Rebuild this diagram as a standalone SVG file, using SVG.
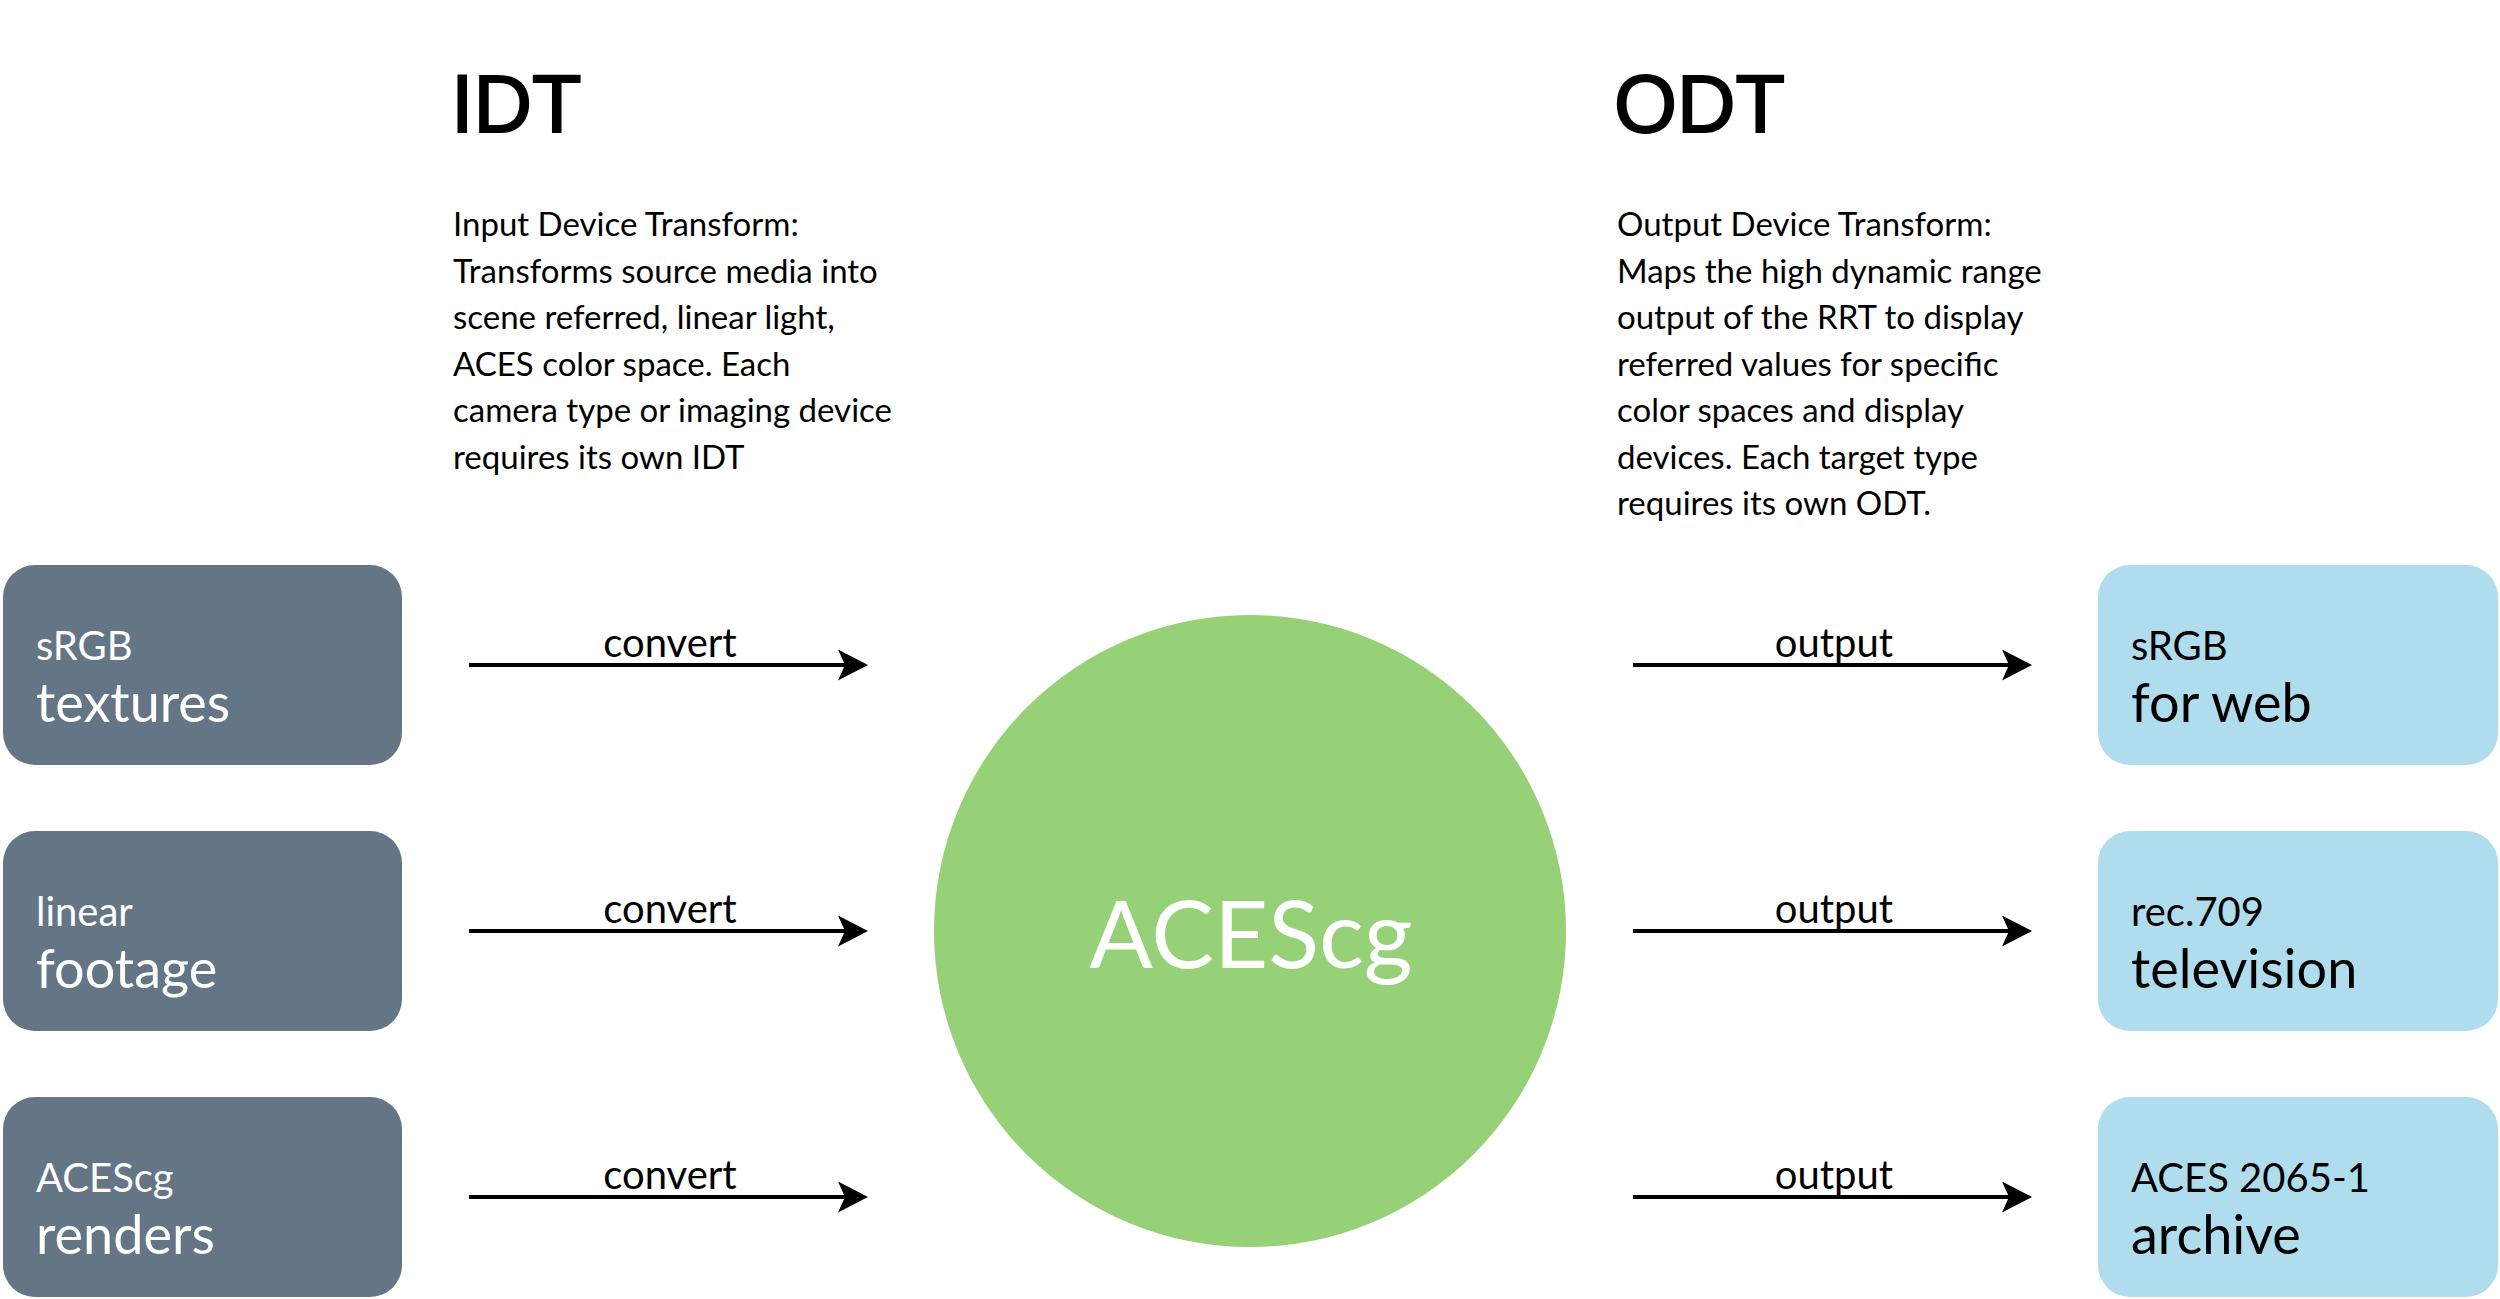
<svg xmlns="http://www.w3.org/2000/svg" width="2500" height="1299" viewBox="0 0 2500 1299">
<style>
text{font-family:Lato,"Liberation Sans",sans-serif;}
.h{font-family:"Liberation Sans",Arial,sans-serif;font-size:81px;fill:#000;stroke:#000;stroke-width:2;}
.p{font-size:33px;fill:#000;}
.lbl{font-size:40px;fill:#000;text-anchor:middle;}
.in rect{fill:#647585;}
.out rect{fill:#AFDDEE;}
.in text{fill:#fff;}
.out text{fill:#000;}
.s{font-size:40px;}
.b{font-size:54px;}
.c{font-size:94px;fill:#fff;text-anchor:middle;}
.conn line{stroke:#000;stroke-width:4;marker-end:url(#ah);}
</style>
<defs>
<marker id="ah" markerUnits="userSpaceOnUse" markerWidth="32" markerHeight="32" refX="7" refY="15.5" orient="auto" viewBox="0 0 32 32">
<path d="M0,0 L30,15.5 L0,31 L7,15.5 Z" fill="#000"/>
</marker>
</defs>
<rect width="2500" height="1299" fill="#fff"/>
<g id="idt-heading">
<text class="h" x="451" y="132">IDT</text>
<text class="p" x="453" y="236">Input Device Transform:</text>
<text class="p" x="453" y="282.5">Transforms source media into</text>
<text class="p" x="453" y="329">scene referred, linear light,</text>
<text class="p" x="453" y="375.5">ACES color space. Each</text>
<text class="p" x="453" y="422">camera type or imaging device</text>
<text class="p" x="453" y="468.5">requires its own IDT</text>
</g>
<g id="odt-heading">
<text class="h" x="1614" y="132">ODT</text>
<text class="p" x="1617" y="236">Output Device Transform:</text>
<text class="p" x="1617" y="282.5">Maps the high dynamic range</text>
<text class="p" x="1617" y="329">output of the RRT to display</text>
<text class="p" x="1617" y="375.5">referred values for specific</text>
<text class="p" x="1617" y="422">color spaces and display</text>
<text class="p" x="1617" y="468.5">devices. Each target type</text>
<text class="p" x="1617" y="515">requires its own ODT.</text>
</g>
<g id="in-textures" class="in">
<rect x="3" y="565" width="399" height="200" rx="32"/>
<text class="s" x="36" y="660">sRGB</text>
<text class="b" x="36" y="722">textures</text>
</g>
<g id="in-footage" class="in">
<rect x="3" y="831" width="399" height="200" rx="32"/>
<text class="s" x="36" y="926">linear</text>
<text class="b" x="36" y="988">footage</text>
</g>
<g id="in-renders" class="in">
<rect x="3" y="1097" width="399" height="200" rx="32"/>
<text class="s" x="36" y="1192">ACEScg</text>
<text class="b" x="36" y="1254">renders</text>
</g>
<g id="acescg">
<circle cx="1250" cy="931" r="316" fill="#96D077"/>
<text class="c" x="1251" y="968">ACEScg</text>
</g>
<g id="out-web" class="out">
<rect x="2098" y="565" width="400" height="200" rx="32"/>
<text class="s" x="2131" y="660">sRGB</text>
<text class="b" x="2131" y="722">for web</text>
</g>
<g id="out-tv" class="out">
<rect x="2098" y="831" width="400" height="200" rx="32"/>
<text class="s" x="2131" y="926">rec.709</text>
<text class="b" x="2131" y="988">television</text>
</g>
<g id="out-archive" class="out">
<rect x="2098" y="1097" width="400" height="200" rx="32"/>
<text class="s" x="2131" y="1192">ACES 2065-1</text>
<text class="b" x="2131" y="1254">archive</text>
</g>
<g id="connectors" class="conn">
<line x1="469" y1="665" x2="845" y2="665"/>
<line x1="469" y1="931" x2="845" y2="931"/>
<line x1="469" y1="1197" x2="845" y2="1197"/>
<line x1="1633" y1="665" x2="2009" y2="665"/>
<line x1="1633" y1="931" x2="2009" y2="931"/>
<line x1="1633" y1="1197" x2="2009" y2="1197"/>
<text class="lbl" x="670" y="657">convert</text>
<text class="lbl" x="670" y="923">convert</text>
<text class="lbl" x="670" y="1189">convert</text>
<text class="lbl" x="1834" y="657">output</text>
<text class="lbl" x="1834" y="923">output</text>
<text class="lbl" x="1834" y="1189">output</text>
</g>
</svg>
